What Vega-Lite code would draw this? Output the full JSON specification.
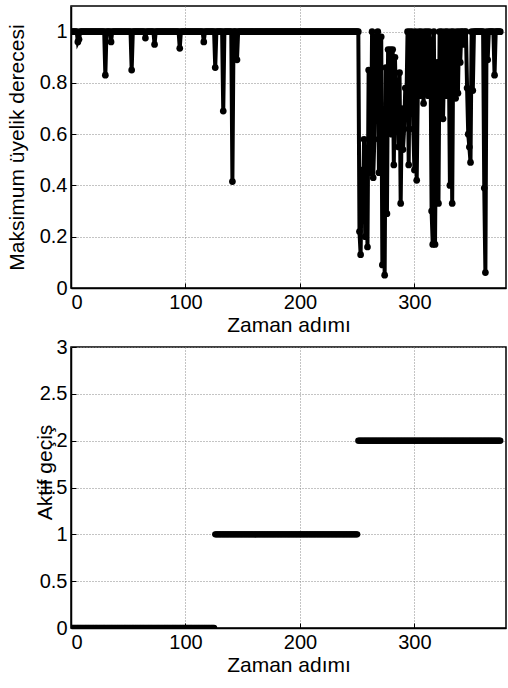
{
"$schema": "https://vega.github.io/schema/vega-lite/v6.json",
"padding": 5,
"background": "white",
"config": {
  "font": "Liberation Sans",
  "view": {"stroke": "black", "strokeWidth": 1.5},
  "axis": {"labelFont": "Liberation Sans", "labelFontSize": 20, "labelColor": "black", "titleFont": "Liberation Sans", "titleFontSize": 21, "titleFontWeight": "normal", "titleColor": "black", "domainColor": "black", "domainWidth": 1.5, "tickColor": "black", "tickSize": -5, "grid": true, "gridColor": "#888888", "gridDash": [1, 2], "gridWidth": 1, "gridOpacity": 1, "labelPadding": 9},
  "concat": {"spacing": 0}
},
"datasets": {"d": [
{"t":1,"m":1,"a":0},{"t":2,"m":1,"a":0},{"t":3,"m":1,"a":0},{"t":4,"m":1,"a":0},{"t":5,"m":1,"a":0},{"t":6,"m":0.96,"a":0},{"t":7,"m":0.97,"a":0},{"t":8,"m":1,"a":0},{"t":9,"m":1,"a":0},{"t":10,"m":1,"a":0},
{"t":11,"m":1,"a":0},{"t":12,"m":1,"a":0},{"t":13,"m":1,"a":0},{"t":14,"m":1,"a":0},{"t":15,"m":1,"a":0},{"t":16,"m":1,"a":0},{"t":17,"m":1,"a":0},{"t":18,"m":1,"a":0},{"t":19,"m":1,"a":0},{"t":20,"m":1,"a":0},
{"t":21,"m":1,"a":0},{"t":22,"m":1,"a":0},{"t":23,"m":1,"a":0},{"t":24,"m":1,"a":0},{"t":25,"m":1,"a":0},{"t":26,"m":1,"a":0},{"t":27,"m":1,"a":0},{"t":28,"m":1,"a":0},{"t":29,"m":1,"a":0},{"t":30,"m":0.83,"a":0},
{"t":31,"m":1,"a":0},{"t":32,"m":1,"a":0},{"t":33,"m":1,"a":0},{"t":34,"m":1,"a":0},{"t":35,"m":0.96,"a":0},{"t":36,"m":1,"a":0},{"t":37,"m":1,"a":0},{"t":38,"m":1,"a":0},{"t":39,"m":1,"a":0},{"t":40,"m":1,"a":0},
{"t":41,"m":1,"a":0},{"t":42,"m":1,"a":0},{"t":43,"m":1,"a":0},{"t":44,"m":1,"a":0},{"t":45,"m":1,"a":0},{"t":46,"m":1,"a":0},{"t":47,"m":1,"a":0},{"t":48,"m":1,"a":0},{"t":49,"m":1,"a":0},{"t":50,"m":1,"a":0},
{"t":51,"m":1,"a":0},{"t":52,"m":1,"a":0},{"t":53,"m":0.85,"a":0},{"t":54,"m":1,"a":0},{"t":55,"m":1,"a":0},{"t":56,"m":1,"a":0},{"t":57,"m":1,"a":0},{"t":58,"m":1,"a":0},{"t":59,"m":1,"a":0},{"t":60,"m":1,"a":0},
{"t":61,"m":1,"a":0},{"t":62,"m":1,"a":0},{"t":63,"m":1,"a":0},{"t":64,"m":1,"a":0},{"t":65,"m":0.975,"a":0},{"t":66,"m":1,"a":0},{"t":67,"m":1,"a":0},{"t":68,"m":1,"a":0},{"t":69,"m":1,"a":0},{"t":70,"m":1,"a":0},
{"t":71,"m":1,"a":0},{"t":72,"m":1,"a":0},{"t":73,"m":0.95,"a":0},{"t":74,"m":1,"a":0},{"t":75,"m":1,"a":0},{"t":76,"m":1,"a":0},{"t":77,"m":1,"a":0},{"t":78,"m":1,"a":0},{"t":79,"m":1,"a":0},{"t":80,"m":1,"a":0},
{"t":81,"m":1,"a":0},{"t":82,"m":1,"a":0},{"t":83,"m":1,"a":0},{"t":84,"m":1,"a":0},{"t":85,"m":1,"a":0},{"t":86,"m":1,"a":0},{"t":87,"m":1,"a":0},{"t":88,"m":1,"a":0},{"t":89,"m":1,"a":0},{"t":90,"m":1,"a":0},
{"t":91,"m":1,"a":0},{"t":92,"m":1,"a":0},{"t":93,"m":1,"a":0},{"t":94,"m":1,"a":0},{"t":95,"m":0.935,"a":0},{"t":96,"m":1,"a":0},{"t":97,"m":1,"a":0},{"t":98,"m":1,"a":0},{"t":99,"m":1,"a":0},{"t":100,"m":1,"a":0},
{"t":101,"m":1,"a":0},{"t":102,"m":1,"a":0},{"t":103,"m":1,"a":0},{"t":104,"m":1,"a":0},{"t":105,"m":1,"a":0},{"t":106,"m":1,"a":0},{"t":107,"m":1,"a":0},{"t":108,"m":1,"a":0},{"t":109,"m":1,"a":0},{"t":110,"m":1,"a":0},
{"t":111,"m":1,"a":0},{"t":112,"m":1,"a":0},{"t":113,"m":1,"a":0},{"t":114,"m":1,"a":0},{"t":115,"m":1,"a":0},{"t":116,"m":0.96,"a":0},{"t":117,"m":1,"a":0},{"t":118,"m":1,"a":0},{"t":119,"m":1,"a":0},{"t":120,"m":1,"a":0},
{"t":121,"m":1,"a":0},{"t":122,"m":1,"a":0},{"t":123,"m":1,"a":0},{"t":124,"m":1,"a":0},{"t":125,"m":1,"a":0},{"t":126,"m":0.86,"a":1},{"t":127,"m":1,"a":1},{"t":128,"m":1,"a":1},{"t":129,"m":1,"a":1},{"t":130,"m":1,"a":1},
{"t":131,"m":1,"a":1},{"t":132,"m":1,"a":1},{"t":133,"m":0.69,"a":1},{"t":134,"m":1,"a":1},{"t":135,"m":1,"a":1},{"t":136,"m":1,"a":1},{"t":137,"m":1,"a":1},{"t":138,"m":1,"a":1},{"t":139,"m":1,"a":1},{"t":140,"m":1,"a":1},
{"t":141,"m":0.415,"a":1},{"t":142,"m":1,"a":1},{"t":143,"m":1,"a":1},{"t":144,"m":1,"a":1},{"t":145,"m":0.89,"a":1},{"t":146,"m":1,"a":1},{"t":147,"m":1,"a":1},{"t":148,"m":1,"a":1},{"t":149,"m":1,"a":1},{"t":150,"m":1,"a":1},
{"t":151,"m":1,"a":1},{"t":152,"m":1,"a":1},{"t":153,"m":1,"a":1},{"t":154,"m":1,"a":1},{"t":155,"m":1,"a":1},{"t":156,"m":1,"a":1},{"t":157,"m":1,"a":1},{"t":158,"m":1,"a":1},{"t":159,"m":1,"a":1},{"t":160,"m":1,"a":1},
{"t":161,"m":1,"a":1},{"t":162,"m":1,"a":1},{"t":163,"m":1,"a":1},{"t":164,"m":1,"a":1},{"t":165,"m":1,"a":1},{"t":166,"m":1,"a":1},{"t":167,"m":1,"a":1},{"t":168,"m":1,"a":1},{"t":169,"m":1,"a":1},{"t":170,"m":1,"a":1},
{"t":171,"m":1,"a":1},{"t":172,"m":1,"a":1},{"t":173,"m":1,"a":1},{"t":174,"m":1,"a":1},{"t":175,"m":1,"a":1},{"t":176,"m":1,"a":1},{"t":177,"m":1,"a":1},{"t":178,"m":1,"a":1},{"t":179,"m":1,"a":1},{"t":180,"m":1,"a":1},
{"t":181,"m":1,"a":1},{"t":182,"m":1,"a":1},{"t":183,"m":1,"a":1},{"t":184,"m":1,"a":1},{"t":185,"m":1,"a":1},{"t":186,"m":1,"a":1},{"t":187,"m":1,"a":1},{"t":188,"m":1,"a":1},{"t":189,"m":1,"a":1},{"t":190,"m":1,"a":1},
{"t":191,"m":1,"a":1},{"t":192,"m":1,"a":1},{"t":193,"m":1,"a":1},{"t":194,"m":1,"a":1},{"t":195,"m":1,"a":1},{"t":196,"m":1,"a":1},{"t":197,"m":1,"a":1},{"t":198,"m":1,"a":1},{"t":199,"m":1,"a":1},{"t":200,"m":1,"a":1},
{"t":201,"m":1,"a":1},{"t":202,"m":1,"a":1},{"t":203,"m":1,"a":1},{"t":204,"m":1,"a":1},{"t":205,"m":1,"a":1},{"t":206,"m":1,"a":1},{"t":207,"m":1,"a":1},{"t":208,"m":1,"a":1},{"t":209,"m":1,"a":1},{"t":210,"m":1,"a":1},
{"t":211,"m":1,"a":1},{"t":212,"m":1,"a":1},{"t":213,"m":1,"a":1},{"t":214,"m":1,"a":1},{"t":215,"m":1,"a":1},{"t":216,"m":1,"a":1},{"t":217,"m":1,"a":1},{"t":218,"m":1,"a":1},{"t":219,"m":1,"a":1},{"t":220,"m":1,"a":1},
{"t":221,"m":1,"a":1},{"t":222,"m":1,"a":1},{"t":223,"m":1,"a":1},{"t":224,"m":1,"a":1},{"t":225,"m":1,"a":1},{"t":226,"m":1,"a":1},{"t":227,"m":1,"a":1},{"t":228,"m":1,"a":1},{"t":229,"m":1,"a":1},{"t":230,"m":1,"a":1},
{"t":231,"m":1,"a":1},{"t":232,"m":1,"a":1},{"t":233,"m":1,"a":1},{"t":234,"m":1,"a":1},{"t":235,"m":1,"a":1},{"t":236,"m":1,"a":1},{"t":237,"m":1,"a":1},{"t":238,"m":1,"a":1},{"t":239,"m":1,"a":1},{"t":240,"m":1,"a":1},
{"t":241,"m":1,"a":1},{"t":242,"m":1,"a":1},{"t":243,"m":1,"a":1},{"t":244,"m":1,"a":1},{"t":245,"m":1,"a":1},{"t":246,"m":1,"a":1},{"t":247,"m":1,"a":1},{"t":248,"m":1,"a":1},{"t":249,"m":1,"a":1},{"t":250,"m":1,"a":1},
{"t":251,"m":1,"a":2},{"t":252,"m":0.22,"a":2},{"t":253,"m":0.13,"a":2},{"t":254,"m":0.46,"a":2},{"t":255,"m":0.28,"a":2},{"t":256,"m":0.58,"a":2},{"t":257,"m":0.2,"a":2},{"t":258,"m":0.45,"a":2},{"t":259,"m":0.16,"a":2},{"t":260,"m":0.85,"a":2},
{"t":261,"m":0.58,"a":2},{"t":262,"m":0.45,"a":2},{"t":263,"m":1,"a":2},{"t":264,"m":0.43,"a":2},{"t":265,"m":0.58,"a":2},{"t":266,"m":0.98,"a":2},{"t":267,"m":0.78,"a":2},{"t":268,"m":1,"a":2},{"t":269,"m":0.45,"a":2},{"t":270,"m":0.72,"a":2},
{"t":271,"m":0.98,"a":2},{"t":272,"m":0.09,"a":2},{"t":273,"m":0.58,"a":2},{"t":274,"m":0.05,"a":2},{"t":275,"m":0.86,"a":2},{"t":276,"m":0.29,"a":2},{"t":277,"m":0.93,"a":2},{"t":278,"m":0.75,"a":2},{"t":279,"m":0.93,"a":2},{"t":280,"m":0.6,"a":2},
{"t":281,"m":0.93,"a":2},{"t":282,"m":0.48,"a":2},{"t":283,"m":0.9,"a":2},{"t":284,"m":0.7,"a":2},{"t":285,"m":0.78,"a":2},{"t":286,"m":0.55,"a":2},{"t":287,"m":0.84,"a":2},{"t":288,"m":0.33,"a":2},{"t":289,"m":0.7,"a":2},{"t":290,"m":0.54,"a":2},
{"t":291,"m":0.62,"a":2},{"t":292,"m":0.78,"a":2},{"t":293,"m":0.72,"a":2},{"t":294,"m":1,"a":2},{"t":295,"m":0.48,"a":2},{"t":296,"m":1,"a":2},{"t":297,"m":0.77,"a":2},{"t":298,"m":1,"a":2},{"t":299,"m":0.62,"a":2},{"t":300,"m":0.46,"a":2},
{"t":301,"m":1,"a":2},{"t":302,"m":0.42,"a":2},{"t":303,"m":0.78,"a":2},{"t":304,"m":1,"a":2},{"t":305,"m":0.75,"a":2},{"t":306,"m":1,"a":2},{"t":307,"m":0.85,"a":2},{"t":308,"m":0.72,"a":2},{"t":309,"m":1,"a":2},{"t":310,"m":0.77,"a":2},
{"t":311,"m":1,"a":2},{"t":312,"m":0.75,"a":2},{"t":313,"m":1,"a":2},{"t":314,"m":0.95,"a":2},{"t":315,"m":0.3,"a":2},{"t":316,"m":0.17,"a":2},{"t":317,"m":1,"a":2},{"t":318,"m":0.17,"a":2},{"t":319,"m":0.75,"a":2},{"t":320,"m":0.88,"a":2},
{"t":321,"m":0.33,"a":2},{"t":322,"m":1,"a":2},{"t":323,"m":0.77,"a":2},{"t":324,"m":1,"a":2},{"t":325,"m":0.66,"a":2},{"t":326,"m":0.9,"a":2},{"t":327,"m":1,"a":2},{"t":328,"m":0.75,"a":2},{"t":329,"m":1,"a":2},{"t":330,"m":0.95,"a":2},
{"t":331,"m":0.4,"a":2},{"t":332,"m":1,"a":2},{"t":333,"m":0.33,"a":2},{"t":334,"m":1,"a":2},{"t":335,"m":0.82,"a":2},{"t":336,"m":0.74,"a":2},{"t":337,"m":1,"a":2},{"t":338,"m":0.76,"a":2},{"t":339,"m":1,"a":2},{"t":340,"m":0.88,"a":2},
{"t":341,"m":1,"a":2},{"t":342,"m":1,"a":2},{"t":343,"m":0.95,"a":2},{"t":344,"m":1,"a":2},{"t":345,"m":1,"a":2},{"t":346,"m":0.78,"a":2},{"t":347,"m":0.6,"a":2},{"t":348,"m":0.55,"a":2},{"t":349,"m":0.49,"a":2},{"t":350,"m":1,"a":2},
{"t":351,"m":0.77,"a":2},{"t":352,"m":1,"a":2},{"t":353,"m":1,"a":2},{"t":354,"m":1,"a":2},{"t":355,"m":1,"a":2},{"t":356,"m":1,"a":2},{"t":357,"m":1,"a":2},{"t":358,"m":1,"a":2},{"t":359,"m":1,"a":2},{"t":360,"m":1,"a":2},
{"t":361,"m":0.39,"a":2},{"t":362,"m":0.06,"a":2},{"t":363,"m":1,"a":2},{"t":364,"m":0.89,"a":2},{"t":365,"m":1,"a":2},{"t":366,"m":1,"a":2},{"t":367,"m":1,"a":2},{"t":368,"m":1,"a":2},{"t":369,"m":1,"a":2},{"t":370,"m":0.83,"a":2},
{"t":371,"m":1,"a":2},{"t":372,"m":1,"a":2},{"t":373,"m":1,"a":2},{"t":374,"m":1,"a":2},{"t":375,"m":1,"a":2}
]},
"vconcat": [
  {
    "width": 435, "height": 282,
    "data": {"name": "d"},
    "encoding": {
      "x": {"field": "t", "type": "quantitative", "scale": {"domain": [0, 380], "nice": false, "zero": false}, "axis": {"values": [0, 100, 200, 300], "format": "d", "title": "Zaman adımı", "titlePadding": 2}},
      "y": {"field": "m", "type": "quantitative", "scale": {"domain": [0, 1.1], "nice": false}, "axis": {"values": [0, 0.2, 0.4, 0.6, 0.8, 1], "format": "~r", "title": "Maksimum üyelik derecesi", "titlePadding": 12}}
    },
    "layer": [
      {"mark": {"type": "line", "color": "black", "strokeWidth": 4, "clip": true}},
      {"mark": {"type": "point", "filled": true, "color": "black", "size": 45, "opacity": 1, "clip": true}}
    ]
  },
  {
    "width": 435, "height": 281,
    "data": {"name": "d"},
    "mark": {"type": "point", "filled": true, "color": "black", "size": 40, "opacity": 1, "clip": true},
    "encoding": {
      "x": {"field": "t", "type": "quantitative", "scale": {"domain": [0, 380], "nice": false, "zero": false}, "axis": {"values": [0, 100, 200, 300], "format": "d", "title": "Zaman adımı", "titlePadding": 2}},
      "y": {"field": "a", "type": "quantitative", "scale": {"domain": [0, 3], "nice": false}, "axis": {"values": [0, 0.5, 1, 1.5, 2, 2.5, 3], "format": "~r", "title": "Aktif geçiş", "titlePadding": -16, "titleY": 125}}
    }
  }
]
}
